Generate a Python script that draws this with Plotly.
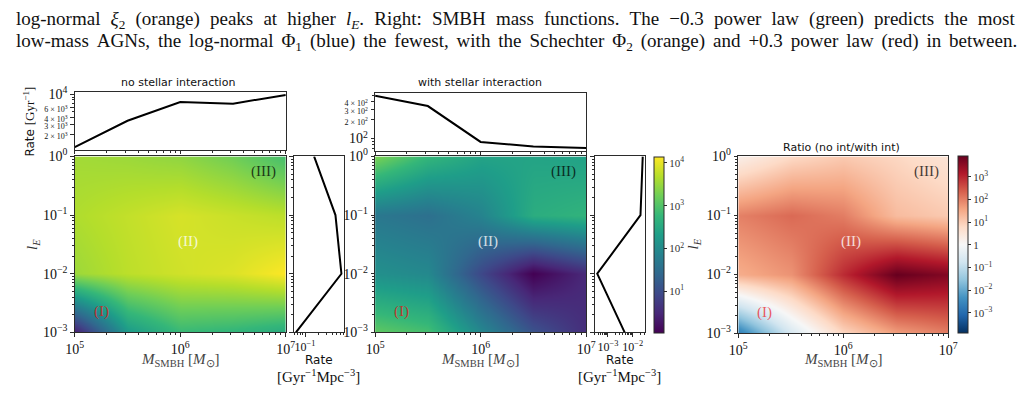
import numpy as np
import plotly.graph_objects as go

W, H = 1027, 416

# ---------------- data ----------------
mass = [1e5, 10**5.5, 1e6, 10**6.5, 1e7]          # M_SMBH grid [M_sun]
l_edd = [1e-3, 1e-2, 1e-1, 1.0]                    # l_E grid

# rates [Gyr^-1 Mpc^-3], rows: l_E, columns: M_SMBH
rate_no_int = [
    [2.2, 170, 600, 500, 340],
    [3260, 5240, 6950, 8400, 13500],
    [4330, 5750, 7640, 6320, 5240],
    [3580, 3260, 2700, 1680, 790],
]
rate_with_int = [
    [1260, 790, 89, 12.2, 3.5],
    [118, 89, 8.3, 1.03, 3.2],
    [46, 34, 74, 370, 490],
    [2030, 540, 250, 250, 230],
]
mass_rate_no_int = [1180, 3430, 7330, 6870, 9820]      # [Gyr^-1]
mass_rate_with_int = [492, 336, 88, 74, 70]            # [Gyr^-1]
ledd_rate_no_int = [0.063, 0.63, 0.466, 0.158]         # [Gyr^-1 Mpc^-3]
ledd_rate_with_int = [4.7e-3, 3.7e-4, 0.0204, 0.0251]  # [Gyr^-1 Mpc^-3]

region_labels = ["(I)", "(II)", "(III)"]
region_M = [10**5.25, 10**6.07, 10**6.79]
region_l = [10**-2.65, 10**-1.45, 10**-0.25]

cap1_words = ["log-normal", "<i>ξ</i><sub>2</sub>", "(orange)", "peaks", "at", "higher",
              "<i>l<sub>E</sub></i>.", "Right:", "SMBH", "mass", "functions.", "The", "−0.3",
              "power", "law", "(green)", "predicts", "the", "most"]
cap2_words = ["low-mass", "AGNs,", "the", "log-normal", "Φ<sub>1</sub>", "(blue)", "the", "fewest,",
              "with", "the", "Schechter", "Φ<sub>2</sub>", "(orange)", "and", "+0.3", "power",
              "law", "(red)", "in", "between."]

HS = "\u200a"   # hair space (imitates the justified LaTeX line)
TS = "\u2009"   # thin space
caption = [(" " + TS + HS).join(cap1_words), (" " + HS + HS).join(cap2_words)]

# ---------------- helpers ----------------
SERIF = "Liberation Serif"
SANS = "DejaVu Sans"
LC = "#2b2b2b"


def dom_x(x0, x1):
    return [x0 / W, x1 / W]


def dom_y(y0, y1):
    return [1 - y1 / H, 1 - y0 / H]


def sup(n):
    s = str(n).replace("-", "−")
    return f"10<sup>{s}</sup>"


def pad_range(vals):
    lv = np.log10(vals)
    lo, hi = lv.min(), lv.max()
    d = hi - lo
    return [lo - 0.05 * d, hi + 0.05 * d]


def minors(n0, n1):
    return [k * 10.0**n for n in range(n0, n1) for k in range(2, 10)]


frame = dict(showline=True, mirror=True, linecolor=LC, linewidth=1, showgrid=False,
             zeroline=False, ticks="outside", ticklen=3.5, tickwidth=0.8, tickcolor=LC,
             tickangle=0, tickfont=dict(family=SERIF, size=14, color="#111"))
minor_style = dict(ticks="outside", ticklen=2, tickwidth=0.6, tickcolor=LC)

lm = np.log10(mass)
ll = np.log10(l_edd)
z_no = np.log10(np.array(rate_no_int))
z_with = np.log10(np.array(rate_with_int))
z_ratio = z_no - z_with
cmin = min(z_no.min(), z_with.min())
cmax = max(z_no.max(), z_with.max())
rmax = np.abs(z_ratio).max()

viridis = "Viridis"
rdbu_r = [[i / 10, c] for i, c in enumerate([
    "#053061", "#2166ac", "#4393c3", "#92c5de", "#d1e5f0", "#f7f7f7",
    "#fddbc7", "#f4a582", "#d6604d", "#b2182b", "#67001f"])]

cb_common = dict(thickness=10, outlinewidth=1, outlinecolor=LC, xpad=0, ypad=0,
                 ticks="outside", ticklen=3, tickcolor=LC, lenmode="fraction",
                 xanchor="left", yanchor="middle",
                 tickfont=dict(family=SERIF, size=11, color="#333"))

fig = go.Figure()

P1 = (67, 282)
P2 = (373, 588)
P3 = (743, 957)
HM_Y = (153, 337)

# ---- top marginals ----
fig.add_trace(go.Scatter(x=mass, y=mass_rate_no_int, xaxis="x", yaxis="y", mode="lines",
                         line=dict(color="black", width=2), hoverinfo="skip"))
fig.add_trace(go.Scatter(x=mass, y=mass_rate_with_int, xaxis="x4", yaxis="y4", mode="lines",
                         line=dict(color="black", width=2), hoverinfo="skip"))

# ---- heatmaps ----
fig.add_trace(go.Heatmap(x=lm, y=ll, z=z_no, xaxis="x2", yaxis="y2", colorscale=viridis,
                         zmin=cmin, zmax=cmax, zsmooth="best", showscale=False, hoverinfo="skip"))
fig.add_trace(go.Heatmap(x=lm, y=ll, z=z_with, xaxis="x5", yaxis="y5", colorscale=viridis,
                         zmin=cmin, zmax=cmax, zsmooth="best", hoverinfo="skip",
                         colorbar=dict(cb_common, x=657 / W, y=1 - 246 / H, len=184 / H,
                                       tickvals=[1, 2, 3, 4],
                                       ticktext=[sup(i) for i in [1, 2, 3, 4]])))
fig.add_trace(go.Heatmap(x=lm, y=ll, z=z_ratio, xaxis="x7", yaxis="y7", colorscale=rdbu_r,
                         zmin=-rmax, zmax=rmax, zsmooth="best", hoverinfo="skip",
                         colorbar=dict(cb_common, x=967 / W, y=1 - 245.5 / H, len=185 / H,
                                       tickvals=[-3, -2, -1, 0, 1, 2, 3],
                                       ticktext=[sup(-3), sup(-2), sup(-1), "1", sup(1), sup(2), sup(3)])))

# ---- right marginals ----
fig.add_trace(go.Scatter(x=ledd_rate_no_int, y=l_edd, xaxis="x3", yaxis="y3", mode="lines",
                         line=dict(color="black", width=2), hoverinfo="skip"))
fig.add_trace(go.Scatter(x=ledd_rate_with_int, y=l_edd, xaxis="x6", yaxis="y6", mode="lines",
                         line=dict(color="black", width=2), hoverinfo="skip"))

# ---------------- axes ----------------
hm_x = dict(frame, range=[5, 7], tickvals=[5, 6, 7], ticktext=[sup(5), sup(6), sup(7)],
            minor=dict(minor_style, tickvals=list(np.log10(minors(5, 7)))))
hm_y = dict(frame, range=[-3, 0], tickvals=[-3, -2, -1, 0],
            ticktext=[sup(-3), sup(-2), sup(-1), sup(0)],
            minor=dict(minor_style, tickvals=list(np.log10(minors(-3, 0)))))


def small(k, n):
    return f'<span style="font-size:8px">{k} × 10<sup>{n}</sup></span>'


top1_y = dict(frame, type="log", range=pad_range(mass_rate_no_int),
              tickvals=[2e3, 3e3, 4e3, 6e3, 1e4],
              ticktext=[small(2, 3), small(3, 3), small(4, 3), small(6, 3), sup(4)],
              minor=dict(minor_style, tickvals=[5e3, 7e3, 8e3, 9e3]))
top2_y = dict(frame, type="log", range=pad_range(mass_rate_with_int),
              tickvals=[100, 200, 300, 400],
              ticktext=[sup(2), small(2, 2), small(3, 2), small(4, 2)],
              minor=dict(minor_style, tickvals=[70, 80, 90, 500]))
top_x = dict(frame, type="log", range=[5, 7], tickvals=[1e5, 1e6, 1e7], showticklabels=False,
             minor=dict(minor_style, tickvals=minors(5, 7)))
right_y = dict(frame, type="log", range=[-3, 0], tickvals=[1e-3, 1e-2, 1e-1, 1], showticklabels=False,
               minor=dict(minor_style, tickvals=minors(-3, 0)))
marg_font = dict(family=SERIF, size=12, color="#111")

fig.update_layout(
    width=W, height=H, margin=dict(l=0, r=0, t=0, b=0),
    paper_bgcolor="white", plot_bgcolor="white", showlegend=False,
    xaxis=dict(top_x, domain=dom_x(*P1), anchor="y"),
    yaxis=dict(top1_y, domain=dom_y(86, 146), anchor="x"),
    xaxis2=dict(hm_x, domain=dom_x(*P1), anchor="y2"),
    yaxis2=dict(hm_y, domain=dom_y(*HM_Y), anchor="x2"),
    xaxis3=dict(frame, type="log", range=pad_range(ledd_rate_no_int), tickvals=[0.1],
                ticktext=[sup(-1)], domain=dom_x(290, 341), anchor="y3", tickfont=marg_font,
                minor=dict(minor_style, tickvals=minors(-2, 0))),
    yaxis3=dict(right_y, domain=dom_y(*HM_Y), anchor="x3"),
    xaxis4=dict(top_x, domain=dom_x(*P2), anchor="y4"),
    yaxis4=dict(top2_y, domain=dom_y(87, 147), anchor="x4"),
    xaxis5=dict(hm_x, domain=dom_x(*P2), anchor="y5"),
    yaxis5=dict(hm_y, domain=dom_y(*HM_Y), anchor="x5"),
    xaxis6=dict(frame, type="log", range=pad_range(ledd_rate_with_int), tickvals=[1e-3, 1e-2],
                ticktext=[sup(-3), sup(-2)], domain=dom_x(597, 648), anchor="y6", tickfont=marg_font,
                minor=dict(minor_style, tickvals=minors(-4, -1))),
    yaxis6=dict(right_y, domain=dom_y(*HM_Y), anchor="x6"),
    xaxis7=dict(hm_x, domain=dom_x(*P3), anchor="y7"),
    yaxis7=dict(hm_y, domain=dom_y(153, 338), anchor="x7"),
)

ann = []


def text(x, y, t, size=12, family=SERIF, color="#222", angle=0, xanchor="center", yanchor="middle"):
    ann.append(dict(x=x / W, y=1 - y / H, xref="paper", yref="paper", text=t, showarrow=False,
                    font=dict(family=family, size=size, color=color), textangle=angle,
                    xanchor=xanchor, yanchor=yanchor))


# caption
text(5, 10.5, caption[0], size=19, xanchor="left", color="#111")
text(5, 33.5, caption[1], size=19, xanchor="left", color="#111")

# titles
text(172, 76, "no stellar interaction", size=11, family=SANS, color="#111")
text(480, 76, "with stellar interaction", size=11, family=SANS, color="#111")
text(848, 144, "Ratio (no int/with int)", size=11, family=SANS, color="#111")

# axis labels
text(20, 117, f'Rate <span style="font-family:{SERIF};font-size:13px">[Gyr<sup>−1</sup>]</span>',
     size=12, family=SANS, angle=-90, color="#111")
for xc in [25, 698]:
    text(xc, 245, "<i>l</i><sub><i>E</i></sub>", size=15, angle=-90, color="#333")
for xc in [174.5, 480.5, 850]:
    text(xc, 366, "<i>M</i><sub>SMBH</sub> [<i>M</i><sub>⊙</sub>]", size=15, color="#444")
for xc in [315.5, 622.5]:
    text(xc, 366, "Rate", size=12, family=SANS, color="#111")
    text(xc, 383, "[Gyr<sup>−1</sup>Mpc<sup>−3</sup>]", size=15, color="#111")

fig.update_layout(annotations=ann)

# region labels inside heatmaps (data coordinates)
region_colors = {
    "x2": ["rgba(215,30,30,0.85)", "rgba(255,255,255,0.8)", "rgba(0,0,0,0.75)"],
    "x5": ["rgba(215,30,30,0.85)", "rgba(255,255,255,0.8)", "rgba(0,0,0,0.75)"],
    "x7": ["rgba(235,60,70,0.85)", "rgba(255,255,255,0.8)", "rgba(0,0,0,0.75)"],
}
for ax, cols in region_colors.items():
    yax = "y" + ax[1:]
    for lab, m, l, c in zip(region_labels, region_M, region_l, cols):
        fig.add_annotation(x=np.log10(m), y=np.log10(l), xref=ax, yref=yax, text=lab,
                           showarrow=False, font=dict(family=SERIF, size=15, color=c))

fig.write_html("out.html")
